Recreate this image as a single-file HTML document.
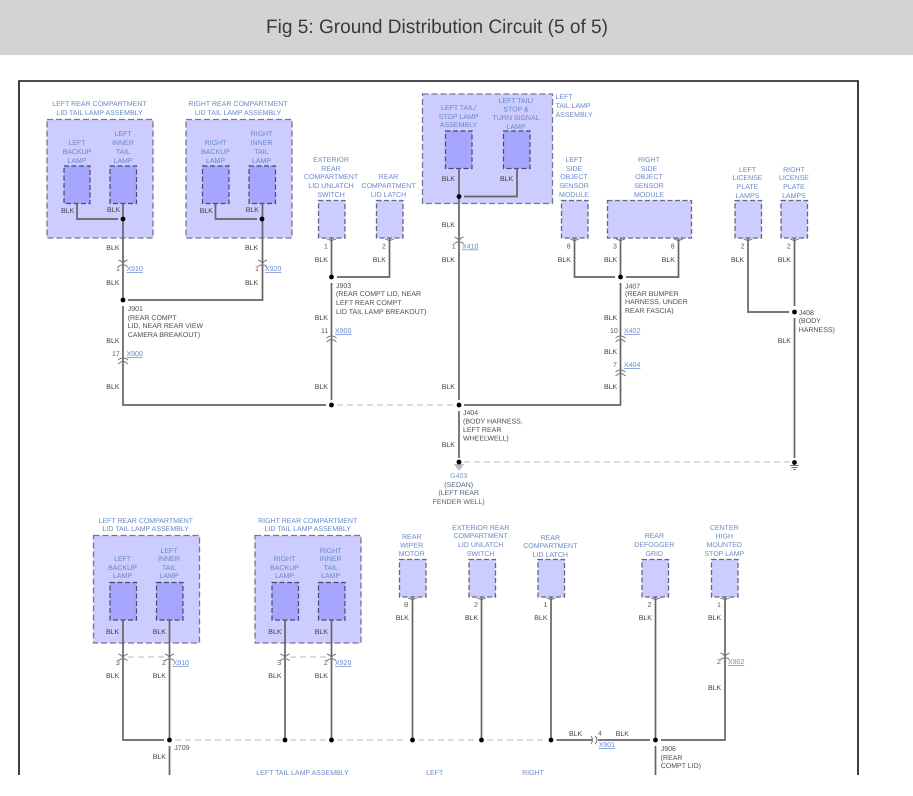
<!DOCTYPE html>
<html><head><meta charset="utf-8"><style>
html,body{margin:0;padding:0;background:#fff}
svg{display:block;font-family:"Liberation Sans",sans-serif;font-size:7px;text-rendering:geometricPrecision}
#all{filter:blur(.3px)}
.c text{text-anchor:middle;fill:#6487c8}
.s text{fill:#6487c8}
.k text{fill:#3c3c3c}
.n text{fill:#5a5a5a}
.j text{fill:#4c4c4c}
.g text{text-anchor:middle;fill:#55607a}
.x text{fill:#6487c8;text-decoration:underline}
.w path{fill:none;stroke:#646464;stroke-width:1.7}
.d path{fill:none;stroke:#b8b8b8;stroke-width:1.1;stroke-dasharray:6 4}
.o rect{fill:#ccccff;stroke:#777590;stroke-width:1.3;stroke-dasharray:6 3}
.i rect{fill:#a6a6ff;stroke:#48486f;stroke-width:1.2;stroke-dasharray:5 2.5}
.b rect{fill:#ccccff;stroke:#666580;stroke-width:1.3;stroke-dasharray:5 2.5}
.con{fill:none;stroke:#777;stroke-width:1}
</style></head><body>
<svg width="913" height="796" viewBox="0 0 913 796" xmlns="http://www.w3.org/2000/svg">
<defs>
<g id="pin"><path class="con" d="M-4.500 0Q-1 .5 0 3Q1 .5 4.500 0"/></g>
<g id="dn"><path class="con" d="M-4.500 -4Q-1 -3 0 0Q1 -3 4.500 -4M-4.500 2.500Q0 -1 4.500 2.500"/></g>
<g id="up"><path class="con" d="M-5 -1Q0 -5 5 -1M-5 3Q-1 0 0 0Q1 0 5 3"/></g>
</defs>
<rect width="913" height="55" fill="#d3d3d3"/>
<g id="all">
<text x="266" y="33" font-size="19.500" fill="#3a3a3a" textLength="342" lengthAdjust="spacingAndGlyphs">Fig 5: Ground Distribution Circuit (5 of 5)</text>
<path d="M19 775V81H858V775" fill="none" stroke="#111" stroke-width="1.6"/>

<g class="o">
<rect x="47" y="119.500" width="106" height="118.500"/>
<rect x="186" y="119.500" width="106" height="118.500"/>
<rect x="422.500" y="94" width="130" height="109.500"/>
<rect x="93.500" y="535.500" width="106" height="107.500"/>
<rect x="255" y="535.500" width="106" height="107.500"/>
</g>
<g class="i">
<rect x="64" y="166" width="26" height="37.500"/><rect x="110" y="166" width="26.500" height="37.500"/>
<rect x="202.500" y="166" width="26.500" height="37.500"/><rect x="249" y="166" width="26.500" height="37.500"/>
<rect x="445.500" y="131" width="26.500" height="37.500"/><rect x="503.500" y="131" width="26.500" height="37.500"/>
<rect x="110" y="582.500" width="26.500" height="37.500"/><rect x="156.500" y="582.500" width="26.500" height="37.500"/>
<rect x="272" y="582.500" width="26.500" height="37.500"/><rect x="318.500" y="582.500" width="26.500" height="37.500"/>
</g>
<g class="b">
<rect x="318.500" y="200.500" width="26.500" height="37.500"/><rect x="376.500" y="200.500" width="26.500" height="37.500"/>
<rect x="561.500" y="200.500" width="26.500" height="37.500"/><rect x="607.500" y="200.500" width="84" height="37.500"/>
<rect x="735" y="200.500" width="26.500" height="37.500"/><rect x="781" y="200.500" width="26.500" height="37.500"/>
<rect x="399.500" y="559.500" width="26.500" height="37.500"/><rect x="469" y="559.500" width="26.500" height="37.500"/>
<rect x="538" y="559.500" width="26.500" height="37.500"/><rect x="642" y="559.500" width="26.500" height="37.500"/>
<rect x="711.500" y="559.500" width="26.500" height="37.500"/>
</g>

<g class="w">
<path d="M77 203.500V219H118"/><path d="M123 203.500V300"/><path d="M128 300H262.500V203.500"/>
<path d="M215.500 203.500V219H257"/>
<path d="M123 306V405H326"/>
<path d="M331.500 238V277"/><path d="M337 277H389.500V238"/><path d="M331.500 283V400"/>
<path d="M459 168.500V196.500"/><path d="M464 196.500H517V168.500"/><path d="M459 196.500V400"/>
<path d="M464 405H620.500V283"/><path d="M459 411V458"/>
<path d="M574.500 238V277H615"/><path d="M620.500 238V277"/><path d="M626 277H678.500V238"/>
<path d="M748 238V312H789"/><path d="M794.500 238V306"/><path d="M794.500 318V458"/>
<path d="M123 620V740H164"/><path d="M169.500 620V740"/><path d="M169.500 746V775"/>
<path d="M285 620V740"/><path d="M331.500 620V740"/><path d="M412.500 597V740"/><path d="M481.500 597V740"/>
<path d="M551 597V740"/><path d="M556.500 740H592"/><path d="M598 740H650"/>
<path d="M655.500 597V740"/><path d="M661 740H725V597"/><path d="M655.500 746V775"/>
</g>
<g class="d">
<path d="M337 405H454"/><path d="M464 462H790"/>
<path d="M128 657H165"/><path d="M290 657H327"/>
<path d="M175 740H280M290 740H326M337 740H407M418 740H476M487 740H546"/>
</g>

<g fill="#000">
<circle cx="123" cy="219" r="2.400"/><circle cx="262" cy="219" r="2.400"/>
<circle cx="123" cy="300" r="2.400"/><circle cx="331.500" cy="277" r="2.400"/>
<circle cx="459" cy="196.500" r="2.400"/><circle cx="331.500" cy="405" r="2.400"/>
<circle cx="459" cy="405" r="2.400"/><circle cx="620.500" cy="277" r="2.400"/>
<circle cx="794.500" cy="312" r="2.400"/><circle cx="459" cy="462" r="2.400"/>
<circle cx="794.500" cy="462.500" r="2.400"/>
<circle cx="169.500" cy="740" r="2.400"/><circle cx="285" cy="740" r="2.400"/>
<circle cx="331.500" cy="740" r="2.400"/><circle cx="412.500" cy="740" r="2.400"/>
<circle cx="481.500" cy="740" r="2.400"/><circle cx="551" cy="740" r="2.400"/>
<circle cx="655.500" cy="740" r="2.400"/>
</g>
<path class="con" d="M454.500 465H463.500M456 467H462M457.500 469H460.500M790 465.500H799M791.500 467.500H797.500M793 469.500H796"/>

<use href="#dn" x="123" y="264"/><use href="#dn" x="262.500" y="264"/><use href="#dn" x="459" y="241"/>
<use href="#up" x="123" y="361"/><use href="#up" x="331.500" y="339"/><use href="#up" x="620.500" y="339"/><use href="#up" x="620.500" y="373"/>
<use href="#pin" x="331.500" y="239"/><use href="#pin" x="389.500" y="239"/><use href="#pin" x="574.500" y="239"/>
<use href="#pin" x="620.500" y="239"/><use href="#pin" x="678.500" y="239"/><use href="#pin" x="748" y="239"/><use href="#pin" x="794.500" y="239"/>
<use href="#dn" x="123" y="658"/><use href="#dn" x="169.500" y="658"/><use href="#dn" x="285" y="658"/><use href="#dn" x="331.500" y="658"/>
<use href="#dn" x="725" y="657"/>
<use href="#pin" x="412.500" y="598"/><use href="#pin" x="481.500" y="598"/><use href="#pin" x="551" y="598"/><use href="#pin" x="655.500" y="598"/><use href="#pin" x="725" y="598"/>
<path class="con" d="M591 736Q594 740 591 744M595 736Q599 740 595 744"/>

<g class="c">
<text x="99.500" y="106">LEFT REAR COMPARTMENT</text><text x="99.500" y="115">LID TAIL LAMP ASSEMBLY</text>
<text x="238" y="106">RIGHT REAR COMPARTMENT</text><text x="238" y="115">LID TAIL LAMP ASSEMBLY</text>
<text x="77" y="145">LEFT</text><text x="77" y="154">BACKUP</text><text x="77" y="163">LAMP</text>
<text x="123" y="136">LEFT</text><text x="123" y="145">INNER</text><text x="123" y="154">TAIL</text><text x="123" y="163">LAMP</text>
<text x="215.500" y="145">RIGHT</text><text x="215.500" y="154">BACKUP</text><text x="215.500" y="163">LAMP</text>
<text x="261.500" y="136">RIGHT</text><text x="261.500" y="145">INNER</text><text x="261.500" y="154">TAIL</text><text x="261.500" y="163">LAMP</text>
<text x="458.500" y="110">LEFT TAIL/</text><text x="458.500" y="119">STOP LAMP</text><text x="458.500" y="127">ASSEMBLY</text>
<text x="516" y="103">LEFT TAIL/</text><text x="516" y="111.500">STOP &amp;</text><text x="516" y="120">TURN SIGNAL</text><text x="516" y="129">LAMP</text>
<text x="331" y="162">EXTERIOR</text><text x="331" y="171">REAR</text><text x="331" y="179">COMPARTMENT</text><text x="331" y="188">LID UNLATCH</text><text x="331" y="197">SWITCH</text>
<text x="388.500" y="179">REAR</text><text x="388.500" y="188">COMPARTMENT</text><text x="388.500" y="197">LID LATCH</text>
<text x="574" y="162">LEFT</text><text x="574" y="171">SIDE</text><text x="574" y="179">OBJECT</text><text x="574" y="188">SENSOR</text><text x="574" y="197">MODULE</text>
<text x="649" y="162">RIGHT</text><text x="649" y="171">SIDE</text><text x="649" y="179">OBJECT</text><text x="649" y="188">SENSOR</text><text x="649" y="197">MODULE</text>
<text x="747.500" y="172">LEFT</text><text x="747.500" y="180">LICENSE</text><text x="747.500" y="189">PLATE</text><text x="747.500" y="198">LAMPS</text>
<text x="794" y="172">RIGHT</text><text x="794" y="180">LICENSE</text><text x="794" y="189">PLATE</text><text x="794" y="198">LAMPS</text>
<text x="145.700" y="523">LEFT REAR COMPARTMENT</text><text x="145.700" y="531">LID TAIL LAMP ASSEMBLY</text>
<text x="307.700" y="523">RIGHT REAR COMPARTMENT</text><text x="307.700" y="531">LID TAIL LAMP ASSEMBLY</text>
<text x="122.500" y="561">LEFT</text><text x="122.500" y="570">BACKUP</text><text x="122.500" y="578">LAMP</text>
<text x="169" y="553">LEFT</text><text x="169" y="561">INNER</text><text x="169" y="570">TAIL</text><text x="169" y="578">LAMP</text>
<text x="284.500" y="561">RIGHT</text><text x="284.500" y="570">BACKUP</text><text x="284.500" y="578">LAMP</text>
<text x="330.700" y="553">RIGHT</text><text x="330.700" y="561">INNER</text><text x="330.700" y="570">TAIL</text><text x="330.700" y="578">LAMP</text>
<text x="411.700" y="539">REAR</text><text x="411.700" y="547.500">WIPER</text><text x="411.700" y="556">MOTOR</text>
<text x="480.700" y="530">EXTERIOR REAR</text><text x="480.700" y="538">COMPARTMENT</text><text x="480.700" y="547">LID UNLATCH</text><text x="480.700" y="556">SWITCH</text>
<text x="550.300" y="540">REAR</text><text x="550.300" y="548">COMPARTMENT</text><text x="550.300" y="557">LID LATCH</text>
<text x="654.300" y="538">REAR</text><text x="654.300" y="547">DEFOGGER</text><text x="654.300" y="556">GRID</text>
<text x="724.300" y="530">CENTER</text><text x="724.300" y="538.500">HIGH</text><text x="724.300" y="547">MOUNTED</text><text x="724.300" y="556">STOP LAMP</text>
<text x="302.500" y="775">LEFT TAIL LAMP ASSEMBLY</text><text x="434.700" y="775">LEFT</text><text x="533" y="775">RIGHT</text>
</g>
<g class="s"><text x="555.500" y="99">LEFT</text><text x="555.500" y="108">TAIL LAMP</text><text x="555.500" y="117">ASSEMBLY</text></g>

<g class="k">
<text x="61" y="213">BLK</text><text x="107" y="212">BLK</text><text x="199.700" y="213">BLK</text><text x="245.700" y="212">BLK</text>
<text x="106.300" y="250">BLK</text><text x="245" y="250">BLK</text><text x="106.300" y="285">BLK</text><text x="245" y="285">BLK</text>
<text x="106.300" y="343">BLK</text><text x="106.300" y="389">BLK</text>
<text x="441.700" y="181">BLK</text><text x="500" y="181">BLK</text><text x="441.700" y="227">BLK</text><text x="441.700" y="262">BLK</text>
<text x="314.700" y="262">BLK</text><text x="372.700" y="262">BLK</text><text x="314.700" y="320">BLK</text><text x="314.700" y="389">BLK</text>
<text x="441.700" y="389">BLK</text><text x="441.700" y="447">BLK</text>
<text x="557.700" y="262">BLK</text><text x="604" y="262">BLK</text><text x="661.700" y="262">BLK</text>
<text x="731" y="262">BLK</text><text x="777.700" y="262">BLK</text><text x="604" y="320">BLK</text><text x="777.700" y="343">BLK</text>
<text x="604" y="354">BLK</text><text x="604" y="389">BLK</text>
<text x="106" y="634">BLK</text><text x="152.700" y="634">BLK</text><text x="268.300" y="634">BLK</text><text x="314.700" y="634">BLK</text>
<text x="106" y="678">BLK</text><text x="152.700" y="678">BLK</text><text x="268.300" y="678">BLK</text><text x="314.700" y="678">BLK</text>
<text x="152.700" y="759">BLK</text>
<text x="395.700" y="620">BLK</text><text x="465" y="620">BLK</text><text x="534.300" y="620">BLK</text><text x="638.700" y="620">BLK</text><text x="708" y="620">BLK</text>
<text x="708" y="690">BLK</text><text x="569" y="736">BLK</text><text x="615.700" y="736">BLK</text>
</g>
<g class="n">
<text x="116" y="271">1</text><text x="255" y="271">1</text><text x="112" y="356">17</text>
<text x="324" y="248.500">1</text><text x="382" y="248.500">2</text><text x="451.700" y="248.500">1</text>
<text x="566.700" y="248.500">8</text><text x="613" y="248.500">3</text><text x="670.700" y="248.500">8</text>
<text x="740.700" y="248.500">2</text><text x="786.700" y="248.500">2</text>
<text x="321" y="333">11</text><text x="610" y="333">10</text><text x="613" y="367">7</text>
<text x="115.700" y="665">3</text><text x="162" y="665">2</text><text x="277.300" y="665">3</text><text x="323.700" y="665">2</text>
<text x="404" y="607">B</text><text x="474" y="607">2</text><text x="543.500" y="607">1</text><text x="647.500" y="607">2</text><text x="717" y="607">1</text>
<text x="717" y="664">2</text><text x="598" y="735.500">4</text>
</g>
<g class="x">
<text x="126.500" y="271">X910</text><text x="265" y="271">X920</text><text x="126.500" y="356">X900</text>
<text x="335" y="333">X900</text><text x="462" y="248.500">X410</text><text x="624" y="333">X402</text><text x="624" y="367">X404</text>
<text x="172.700" y="665">X910</text><text x="335" y="665">X920</text><text x="728" y="664">X902</text><text x="598.700" y="747">X901</text>
</g>
<g class="j">
<text x="127.700" y="311">J901</text><text x="127.700" y="320">(REAR COMPT</text><text x="127.700" y="328">LID, NEAR REAR VIEW</text><text x="127.700" y="337">CAMERA BREAKOUT)</text>
<text x="336" y="288">J903</text><text x="336" y="296">(REAR COMPT LID, NEAR</text><text x="336" y="305">LEFT REAR COMPT</text><text x="336" y="314">LID TAIL LAMP BREAKOUT)</text>
<text x="463" y="415">J404</text><text x="463" y="423.500">(BODY HARNESS,</text><text x="463" y="432">LEFT REAR</text><text x="463" y="440.500">WHEELWELL)</text>
<text x="625" y="288.500">J407</text><text x="625" y="296">(REAR BUMPER</text><text x="625" y="304">HARNESS, UNDER</text><text x="625" y="313">REAR FASCIA)</text>
<text x="798.700" y="315">J408</text><text x="798.700" y="323">(BODY</text><text x="798.700" y="332">HARNESS)</text>
<text x="174.300" y="750">J709</text>
<text x="660.700" y="751">J906</text><text x="660.700" y="760">(REAR</text><text x="660.700" y="768">COMPT LID)</text>
</g>
<g class="g"><text x="458.700" y="478" style="fill:#7f93c8">G403</text><text x="458.700" y="487">(SEDAN)</text><text x="458.700" y="495">(LEFT REAR</text><text x="458.700" y="504">FENDER WELL)</text></g>
</g>
</svg>
</body></html>
